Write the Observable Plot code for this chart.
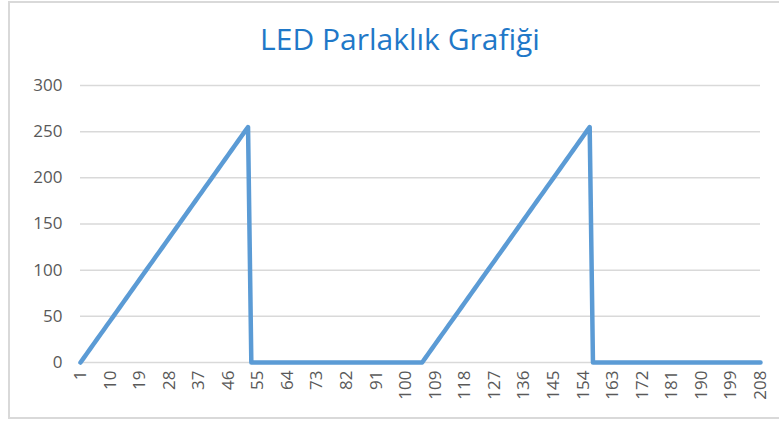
<!DOCTYPE html>
<html>
<head>
<meta charset="utf-8">
<script src="https://cdn.jsdelivr.net/npm/d3@7"></script>
<script src="https://cdn.jsdelivr.net/npm/@observablehq/plot@0.6"></script>
<style>
  html, body { margin: 0; padding: 0; background: #fff; }
  #wrap { position: relative; width: 779px; height: 423px; overflow: hidden; }
  #frame { position: absolute; left: 8px; top: 1px; width: 780px; height: 418px; border: 2px solid #d9d9d9; box-sizing: border-box; }
  #title { position: absolute; left: 0; top: 18px; width: 800px; text-align: center; font-family: "Open Sans", sans-serif; font-size: 30px; color: #1F78C8; }
  #chart { position: absolute; left: 0; top: 0; }
</style>
</head>
<body>
<div id="wrap">
  <div id="frame"></div>
  <div id="chart"></div>
  <div id="title">LED Parlaklık Grafiği</div>
</div>
<script>
const title = "LED Parlaklık Grafiği";
const xTickLabels = [1, 10, 19, 28, 37, 46, 55, 64, 73, 82, 91, 100, 109, 118, 127, 136, 145, 154, 163, 172, 181, 190, 199, 208];
const yTicks = [0, 50, 100, 150, 200, 250, 300];
const brightness = [
  0,5,10,15,20,25,30,35,40,45,50,55,60,65,70,75,80,85,90,95,100,105,110,115,120,125,
  130,135,140,145,150,155,160,165,170,175,180,185,190,195,200,205,210,215,220,225,230,235,240,245,250,255,
  0,0,0,0,0,0,0,0,0,0,0,0,0,0,0,0,0,0,0,0,0,0,0,0,0,0,
  0,0,0,0,0,0,0,0,0,0,0,0,0,0,0,0,0,0,0,0,0,0,0,0,0,0,
  0,5,10,15,20,25,30,35,40,45,50,55,60,65,70,75,80,85,90,95,100,105,110,115,120,125,
  130,135,140,145,150,155,160,165,170,175,180,185,190,195,200,205,210,215,220,225,230,235,240,245,250,255,
  0,0,0,0,0,0,0,0,0,0,0,0,0,0,0,0,0,0,0,0,0,0,0,0,0,0,
  0,0,0,0,0,0,0,0,0,0,0,0,0,0,0,0,0,0,0,0,0,0,0,0,0,0
];
const categories = brightness.map((_, i) => i + 1);
const data = categories.map((c, i) => ({x: c, y: brightness[i]}));

const chart = Plot.plot({
  width: 779,
  height: 423,
  marginLeft: 80,
  marginRight: 19,
  marginTop: 85,
  marginBottom: 61,
  style: {fontFamily: "Open Sans, sans-serif", fontSize: "17px", color: "#595959", background: "transparent"},
  x: {domain: [1, categories.length], label: null},
  y: {domain: [0, 300], label: null},
  marks: [
    Plot.gridY(yTicks, {stroke: "#d9d9d9", strokeOpacity: 1, strokeWidth: 1.5}),
    Plot.axisY({ticks: yTicks, tickSize: 0, tickPadding: 18, label: null, fill: "#595959", fontSize: 17}),
    Plot.axisX({ticks: xTickLabels, tickSize: 0, tickPadding: 8, tickRotate: -90, label: null, fill: "#595959", fontSize: 17, tickFormat: d => String(d)}),
    Plot.line(data, {x: "x", y: "y", stroke: "#5B9BD5", strokeWidth: 4.5, strokeLinejoin: "round", strokeLinecap: "round"})
  ]
});
document.getElementById("chart").appendChild(chart);
</script>
</body>
</html>
